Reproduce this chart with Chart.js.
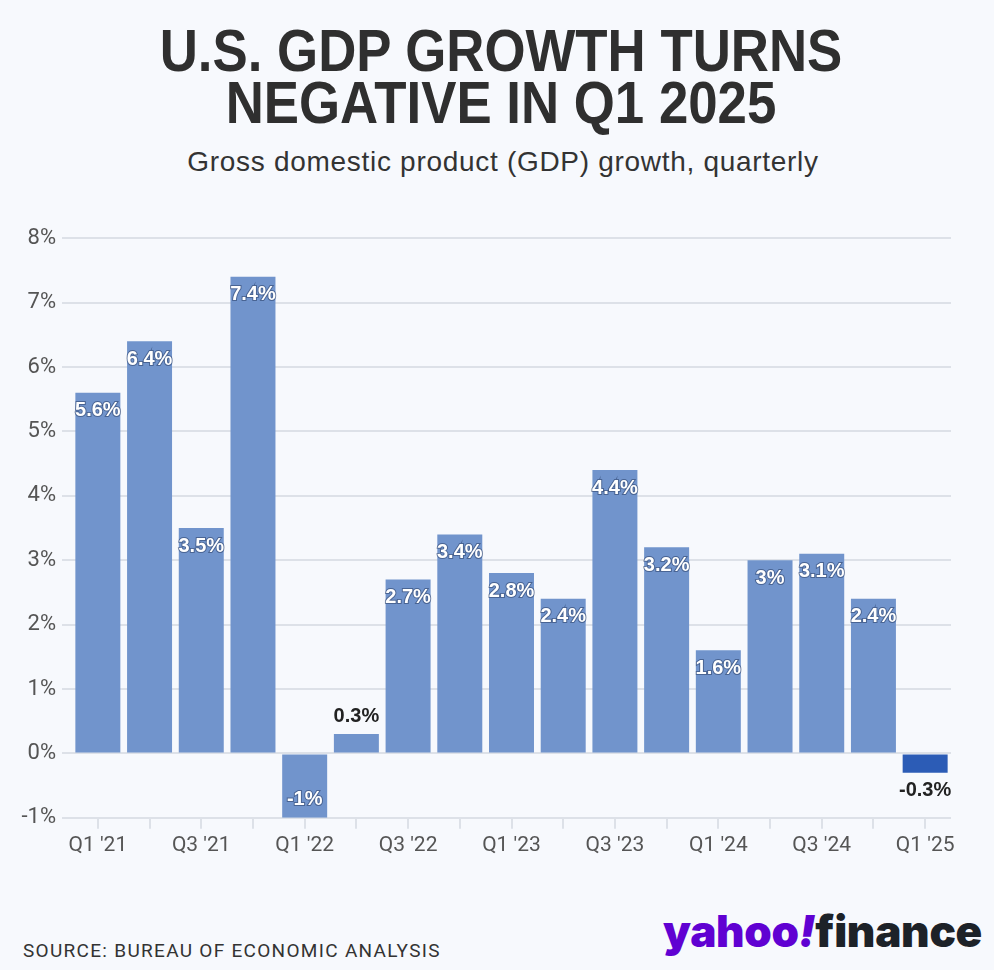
<!DOCTYPE html>
<html>
<head>
<meta charset="utf-8">
<script src="https://cdn.jsdelivr.net/npm/chart.js@4"></script>
<style>
  html, body { margin: 0; padding: 0; background: #f7f9fd; }
  body { width: 994px; height: 970px; position: relative; overflow: hidden; }
  #title {
    position: absolute; top: 25px; left: 4px; width: 994px; text-align: center;
    font-family: "Liberation Sans", Arial, sans-serif;
    font-weight: bold; font-size: 60px; line-height: 52px; color: #2f2f2f;
    transform: scaleX(0.88); transform-origin: 50% 0;
  }
  #subtitle {
    position: absolute; top: 146px; left: 6px; width: 994px; text-align: center;
    font-family: "Liberation Sans", Arial, sans-serif;
    font-size: 28px; letter-spacing: 0.7px; color: #333;
  }
  #wrap { position: absolute; top: 219px; left: 0; width: 994px; height: 643px; }
  #source {
    position: absolute; left: 23px; top: 939px;
    font-family: Roboto, sans-serif; font-size: 19px; letter-spacing: 1.3px; color: #333;
  }
  #logo {
    position: absolute; right: 12px; top: 904px;
    font-family: Inter, sans-serif; font-weight: 900; font-size: 44px; letter-spacing: -0.3px;
  }
  #logo .y { color: #6001d2; }
  #logo .f { color: #1d2228; }
</style>
</head>
<body>
<div id="title">U.S. GDP GROWTH TURNS<br>NEGATIVE IN Q1 2025</div>
<div id="subtitle">Gross domestic product (GDP) growth, quarterly</div>
<div id="wrap"><canvas id="myChart"></canvas></div>
<div id="source">SOURCE: BUREAU OF ECONOMIC ANALYSIS</div>
<div id="logo"><span class="y">yahoo<i>!</i></span><span class="f">finance</span></div>
<script>
var quarters = ["Q1 '21", "Q2 '21", "Q3 '21", "Q4 '21", "Q1 '22", "Q2 '22", "Q3 '22", "Q4 '22",
                "Q1 '23", "Q2 '23", "Q3 '23", "Q4 '23", "Q1 '24", "Q2 '24", "Q3 '24", "Q4 '24", "Q1 '25"];
var growth = [5.6, 6.4, 3.5, 7.4, -1.0, 0.3, 2.7, 3.4, 2.8, 2.4, 4.4, 3.2, 1.6, 3.0, 3.1, 2.4, -0.3];
var yTicks = [-1, 0, 1, 2, 3, 4, 5, 6, 7, 8];

var barColors = growth.map(function (v, i) {
  return i === growth.length - 1 ? '#2c5cb6' : '#7194cc';
});

// value labels: inside the bar end when it is tall enough, outside otherwise
var valueLabels = {
  id: 'valueLabels',
  afterDatasetsDraw: function (chart) {
    var c = chart.ctx;
    var meta = chart.getDatasetMeta(0);
    c.save();
    c.font = 'bold 20px "Liberation Sans", Arial, sans-serif';
    c.textAlign = 'center';
    c.textBaseline = 'middle';
    meta.data.forEach(function (bar, i) {
      var v = growth[i];
      var txt = v + '%';
      var dir = v >= 0 ? 1 : -1;
      var inside = Math.abs(v) >= 1;
      var y;
      if (inside) {
        y = bar.y + dir * 18;
        c.lineWidth = 2;
        c.strokeStyle = 'rgba(40,60,100,0.55)';
        c.strokeText(txt, bar.x, y);
        c.fillStyle = '#ffffff';
      } else {
        y = bar.y - dir * 18;
        c.fillStyle = '#222222';
      }
      c.fillText(txt, bar.x, y);
    });
    c.restore();
  }
};

var ctx = document.getElementById('myChart').getContext('2d');
var chart = new Chart(ctx, {
  type: 'bar',
  data: {
    labels: quarters,
    datasets: [{
      data: growth,
      backgroundColor: barColors,
      borderWidth: 0,
      barPercentage: 0.87,
      categoryPercentage: 1.0
    }]
  },
  options: {
    responsive: true,
    maintainAspectRatio: false,
    animation: false,
    layout: { padding: { top: 10, right: 43, bottom: 0, left: 0 } },
    plugins: {
      legend: { display: false },
      tooltip: { enabled: false }
    },
    scales: {
      x: {
        offset: true,
        grid: {
          offset: false,
          drawOnChartArea: false,
          drawTicks: true,
          tickLength: 11,
          lineWidth: 2,
          color: '#dde1e8'
        },
        border: { display: false },
        ticks: {
          autoSkip: false,
          maxRotation: 0,
          padding: 4,
          color: '#555',
          font: { family: 'Roboto', size: 21 },
          callback: function (val, i) { return i % 2 === 0 ? quarters[i] : ''; }
        }
      },
      y: {
        min: yTicks[0],
        max: yTicks[yTicks.length - 1],
        afterFit: function (s) { s.width = 72; },
        afterBuildTicks: function (s) {
          s.ticks = yTicks.map(function (v) { return { value: v }; });
        },
        grid: {
          color: '#dde1e8',
          lineWidth: 2,
          tickLength: 10
        },
        border: { display: false },
        ticks: {
          padding: 6,
          color: '#555',
          font: { family: 'Roboto', size: 22 },
          callback: function (v) { return v + '%'; }
        }
      }
    }
  },
  plugins: [valueLabels]
});
</script>
</body>
</html>
